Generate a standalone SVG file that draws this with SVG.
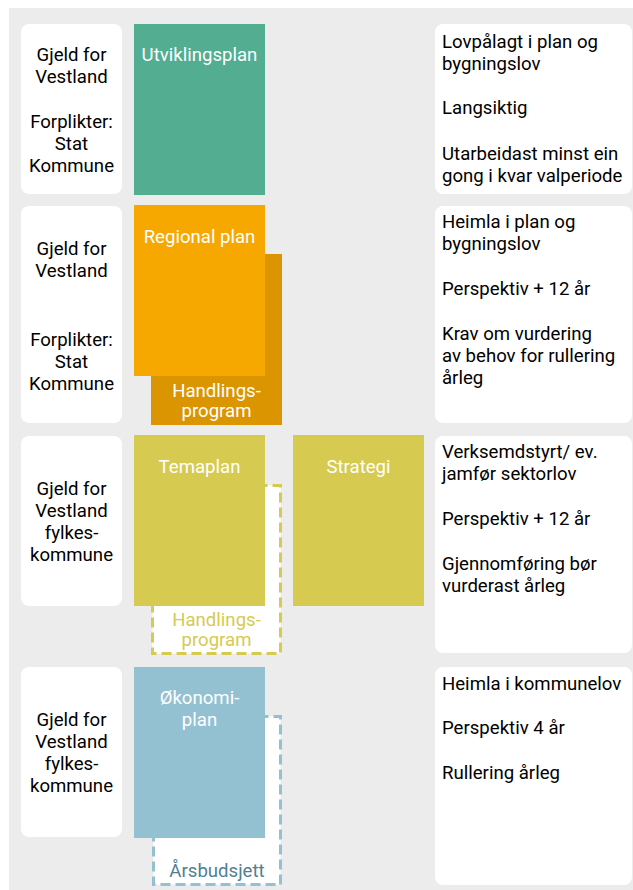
<svg xmlns="http://www.w3.org/2000/svg" width="633" height="890" viewBox="0 0 633 890">
<style>
text{font-family:Roboto,"Liberation Sans",sans-serif;font-size:18.6px}
.info{fill:#ffffff}
.lt{fill:#000000;text-anchor:middle}
.rt{fill:#000000}
.wt{fill:#ffffff;text-anchor:middle}
.dash{fill:#ffffff;stroke-width:3;stroke-dasharray:10 5}
</style>
<rect x="9" y="8" width="624" height="882" fill="#ececec"/>
<g id="connectors"/>

<g id="scope1">
<rect class="info" x="21" y="24" width="101" height="170" rx="8"/>
<text class="lt" x="71.5" y="61">Gjeld for</text>
<text class="lt" x="71.5" y="83">Vestland</text>
<text class="lt" x="71.5" y="128">Forplikter:</text>
<text class="lt" x="71.5" y="150">Stat</text>
<text class="lt" x="71.5" y="172">Kommune</text>
</g>
<g id="scope2">
<rect class="info" x="21" y="206" width="101" height="217" rx="8"/>
<text class="lt" x="71.5" y="255">Gjeld for</text>
<text class="lt" x="71.5" y="277">Vestland</text>
<text class="lt" x="71.5" y="346">Forplikter:</text>
<text class="lt" x="71.5" y="368">Stat</text>
<text class="lt" x="71.5" y="390">Kommune</text>
</g>
<g id="scope3">
<rect class="info" x="21" y="436" width="101" height="170" rx="8"/>
<text class="lt" x="71.5" y="495">Gjeld for</text>
<text class="lt" x="71.5" y="517">Vestland</text>
<text class="lt" x="71.5" y="539">fylkes-</text>
<text class="lt" x="71.5" y="561">kommune</text>
</g>
<g id="scope4">
<rect class="info" x="21" y="667" width="101" height="170" rx="8"/>
<text class="lt" x="71.5" y="726">Gjeld for</text>
<text class="lt" x="71.5" y="748">Vestland</text>
<text class="lt" x="71.5" y="770">fylkes-</text>
<text class="lt" x="71.5" y="792">kommune</text>
</g>

<g id="utviklingsplan">
<rect x="134" y="24" width="131" height="171" fill="#52ad91"/>
<text class="wt" x="199.5" y="61">Utviklingsplan</text>
</g>

<g id="handlingsprogram1">
<rect x="151" y="254" width="131" height="171" fill="#da9500"/>
<text class="wt" x="216.5" y="397">Handlings-</text>
<text class="wt" x="216.5" y="417">program</text>
</g>
<g id="regionalplan">
<rect x="134" y="205" width="131" height="171" fill="#f7a800"/>
<text class="wt" x="199.5" y="243">Regional plan</text>
</g>

<g id="handlingsprogram2">
<rect class="dash" x="152.5" y="485.5" width="128" height="168" stroke="#d6ca50"/>
<text x="216.5" y="626" fill="#d6ca50" text-anchor="middle">Handlings-</text>
<text x="216.5" y="646" fill="#d6ca50" text-anchor="middle">program</text>
</g>
<g id="temaplan">
<rect x="134" y="435" width="131" height="171" fill="#d6ca50"/>
<text class="wt" x="199.5" y="473">Temaplan</text>
</g>
<g id="strategi">
<rect x="293" y="435" width="131" height="171" fill="#d6ca50"/>
<text class="wt" x="358.5" y="473">Strategi</text>
</g>

<g id="arsbudsjett">
<rect class="dash" x="153.5" y="716.5" width="127" height="168" stroke="#93c1d2"/>
<text x="217" y="877" fill="#4f7f95" text-anchor="middle">Årsbudsjett</text>
</g>
<g id="okonomiplan">
<rect x="134" y="667" width="131" height="171" fill="#93c1d2"/>
<text class="wt" x="199.5" y="704">Økonomi-</text>
<text class="wt" x="199.5" y="726">plan</text>
</g>

<g id="desc1">
<rect class="info" x="435" y="24" width="197" height="170" rx="8"/>
<text class="rt" x="442" y="48">Lovpålagt i plan og</text>
<text class="rt" x="442" y="70">bygningslov</text>
<text class="rt" x="442" y="114">Langsiktig</text>
<text class="rt" x="442" y="160">Utarbeidast minst ein</text>
<text class="rt" x="442" y="182">gong i kvar valperiode</text>
</g>
<g id="desc2">
<rect class="info" x="435" y="206" width="197" height="217" rx="8"/>
<text class="rt" x="442" y="228">Heimla i plan og</text>
<text class="rt" x="442" y="250">bygningslov</text>
<text class="rt" x="442" y="295">Perspektiv + 12 år</text>
<text class="rt" x="442" y="340">Krav om vurdering</text>
<text class="rt" x="442" y="362">av behov for rullering</text>
<text class="rt" x="442" y="384">årleg</text>
</g>
<g id="desc3">
<rect class="info" x="435" y="436" width="197" height="217" rx="8"/>
<text class="rt" x="442" y="458">Verksemdstyrt/ ev.</text>
<text class="rt" x="442" y="480">jamfør sektorlov</text>
<text class="rt" x="442" y="525">Perspektiv + 12 år</text>
<text class="rt" x="442" y="570">Gjennomføring bør</text>
<text class="rt" x="442" y="592">vurderast årleg</text>
</g>
<g id="desc4">
<rect class="info" x="435" y="667" width="197" height="218" rx="8"/>
<text class="rt" x="442" y="690">Heimla i kommunelov</text>
<text class="rt" x="442" y="734">Perspektiv 4 år</text>
<text class="rt" x="442" y="779">Rullering årleg</text>
</g>
</svg>
